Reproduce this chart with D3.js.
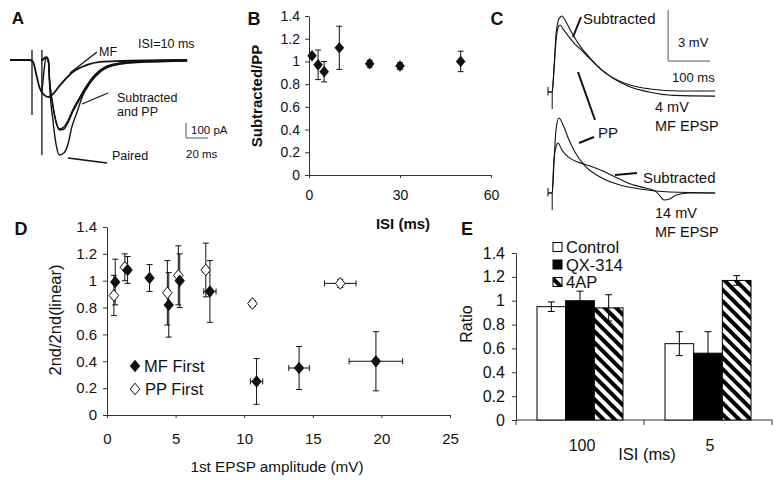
<!DOCTYPE html>
<html><head><meta charset="utf-8">
<script src="https://cdn.jsdelivr.net/npm/d3@7"></script>
<style>
body{margin:0;background:#fff}
svg{display:block;background:#fff}
text{font-family:"Liberation Sans",Arial,Helvetica,sans-serif;fill:#111}
</style>
</head><body>
<svg id="c" width="780" height="480"></svg>
<script>
// ================= DATA =================
// Panel A traces: [time (ms), current (pA)]
const aMF = [[0,0],[18,0],[21,-13],[24,-100],[27,-187],[31,-233],[35,-247],[39,-227],[45,-173],[56,-87],[70,-33],[82,-13],[97,-7],[161,0]];
const aPaired = [[29,-215],[31,-67],[33,20],[35,0],[36,-167],[39,-400],[42,-567],[45,-633],[49,-620],[53,-553],[56,-453],[61,-347],[66,-240],[73,-153],[82,-80],[95,-33],[118,-13],[161,-7]];
const aPP = [[29,0],[31,13],[33,20],[35,-13],[36,-133],[39,-300],[42,-413],[45,-467],[49,-460],[53,-413],[57,-347],[64,-253],[70,-173],[77,-107],[86,-53],[100,-27],[123,-13],[161,-7]];
const aSub = [[29,-7],[31,7],[33,13],[35,-20],[36,-140],[39,-310],[42,-420],[45,-460],[49,-447],[53,-400],[57,-333],[64,-240],[70,-167],[77,-100],[86,-47],[100,-20],[123,-7],[161,0]];
const aStim = [[20,67,-367],[29,67,-633]];           // [time, top, bottom]
const aScaleBar = {t0:160, t1:180, v0:-420, v1:-520}; // 20 ms, 100 pA

// Panel B
const bISI   = [1, 3, 5, 10, 20, 30, 50];
const bRatio = [1.05, 0.97, 0.91, 1.12, 0.98, 0.96, 1.00];
const bErr   = [0, 0.13, 0.09, 0.19, 0.03, 0.03, 0.09];
const bXTicks = [0, 30, 60];
const bYTicks = [0, 0.2, 0.4, 0.6, 0.8, 1, 1.2, 1.4];
const bYTickLabels = ["0","0.2","0.4","0.6","0.8","1","1.2","1.4"];

// Panel C traces: [time (ms), voltage (mV)]
const cTopSub = [[0,0],[10,0],[14,1.29],[19,3.35],[26,4.29],[33,4.47],[43,4.12],[57,3.47],[76,2.71],[100,2.0],[129,1.29],[160,0.76],[195,0.41],[243,0.18],[314,0.06],[398,0.06]];
const cTopPP  = [[0,0],[10,0],[14,1.2],[19,3.0],[25,3.85],[29,3.94],[36,3.7],[48,3.3],[62,2.88],[80,2.45],[100,1.95],[125,1.35],[155,0.8],[190,0.35],[240,0.0],[300,-0.2],[398,-0.24]];
const cBotPP  = [[0,0],[10,0],[14,1.65],[19,3.7],[26,4.41],[36,4.0],[48,3.24],[64,2.41],[88,1.59],[124,0.94],[171,0.47],[219,0.24],[290,0.06],[398,0]];
const cBotSub = [[0,0],[10,0],[14,1.94],[19,2.7],[24,2.94],[33,2.53],[48,2.12],[71,1.82],[100,1.59],[131,1.29],[160,0.94],[190,0.59],[231,0.29],[255,0.12],[267,-0.18],[276,-0.41],[290,-0.35],[305,-0.12],[338,0],[398,0]];
const cStim = [[10,0,-1.0],[0,0.3,-0.2]];
const cScaleBar = {t0:286, t1:386, v0:1.82, v1:4.82}; // 100 ms, 3 mV

// Panel D
const dMFx    = [0.6, 1.5, 3.1, 4.5, 5.3, 7.5, 10.9, 14.0, 19.6];
const dMFy    = [0.99, 1.08, 1.02, 0.82, 1.00, 0.92, 0.25, 0.35, 0.40];
const dMFyErr = [0.17, 0.10, 0.10, 0.24, 0.20, 0.23, 0.17, 0.16, 0.22];
const dMFxErr = [0.1, 0.2, 0.1, 0.1, 0.1, 0.45, 0.45, 0.75, 1.95];
const dPPx    = [0.5, 1.3, 4.4, 5.2, 7.2, 10.6, 17.0];
const dPPy    = [0.89, 1.10, 0.91, 1.04, 1.08, 0.83, 0.98];
const dPPyErr = [0.15, 0.10, 0.24, 0.22, 0.20, 0.02, 0.03];
const dPPxErr = [0.05, 0.1, 0.05, 0.05, 0.2, 0.2, 1.15];
const dXTicks = [0, 5, 10, 15, 20, 25];
const dYTicks = [0, 0.2, 0.4, 0.6, 0.8, 1, 1.2, 1.4];
const dYTickLabels = ["0","0.2","0.4","0.6","0.8","1","1.2","1.4"];

// Panel E
const eGroups = ["100", "5"];
const eSeries = ["Control", "QX-314", "4AP"];
const eControl = [0.95, 0.64], eControlErr = [0.04, 0.10];
const eQX      = [1.00, 0.56], eQXErr      = [0.08, 0.18];
const e4AP     = [0.94, 1.17], e4APErr     = [0.11, 0.04];
const eYTicks = [0, 0.2, 0.4, 0.6, 0.8, 1, 1.2, 1.4];
const eYTickLabels = ["0","0.2","0.4","0.6","0.8","1","1.2","1.4"];

// ================= DRAW =================
const svg = d3.select("#c");
const INK = "#111", AX = "#333";

// pattern for 4AP
const defs = svg.append("defs");
const pat = defs.append("pattern").attr("id","hatch").attr("patternUnits","userSpaceOnUse")
  .attr("width",8).attr("height",8).attr("patternTransform","rotate(-45)");
pat.append("rect").attr("width",8).attr("height",8).attr("fill","#fff");
pat.append("rect").attr("width",4).attr("height",8).attr("fill","#000");

function diamondPath(hw, hh){ return `M0,${-hh}L${hw},0L0,${hh}L${-hw},0Z`; }
function styleAxis(g, fs){
  g.attr("font-family",null).attr("font-size",null);
  g.selectAll("path.domain").attr("stroke",AX).attr("stroke-width",1);
  g.selectAll(".tick line").attr("stroke",AX).attr("stroke-width",1);
  g.selectAll(".tick text").attr("fill",INK).style("font-size",fs+"px");
}
function panelLabel(t,x,y,fs){
  svg.append("text").attr("x",x).attr("y",y).attr("text-anchor","middle")
    .style("font-size",fs+"px").style("font-weight","bold").text(t);
}
function txt(s,x,y,fs,opts={}){
  const t = svg.append("text").attr("x",x).attr("y",y).style("font-size",fs+"px").text(s);
  if(opts.anchor) t.attr("text-anchor",opts.anchor);
  if(opts.bold) t.style("font-weight","bold");
  if(opts.rotate) t.attr("transform",`rotate(-90,${x},${y})`);
  return t;
}
function seg(x1,y1,x2,y2,w=1.3){
  svg.append("line").attr("x1",x1).attr("y1",y1).attr("x2",x2).attr("y2",y2)
    .attr("stroke",INK).attr("stroke-width",w);
}

// ---------- Panel A ----------
{
  const x = d3.scaleLinear().domain([0,160]).range([10,186]);
  const y = d3.scaleLinear().domain([0,-100]).range([60,75]);
  const line = d3.line().x(d=>x(d[0])).y(d=>y(d[1])).curve(d3.curveMonotoneX);
  const g = svg.append("g");
  [aMF, aPaired, aPP, aSub].forEach((tr,i)=>{
    g.append("path").attr("d",line(tr)).attr("fill","none").attr("stroke",INK)
      .attr("stroke-width", i===0 ? 1.8 : 1.4);
  });
  aStim.forEach(s=>{
    g.append("line").attr("x1",x(s[0])).attr("x2",x(s[0])).attr("y1",y(s[1])).attr("y2",y(s[2]))
      .attr("stroke",INK).attr("stroke-width",1.3);
  });
  // scale bar
  g.append("path").attr("d",`M${x(aScaleBar.t0)},${y(aScaleBar.v0)}V${y(aScaleBar.v1)}H${x(aScaleBar.t1)}`)
    .attr("fill","none").attr("stroke","#555").attr("stroke-width",1);
  txt("100 pA",191,134,11.5);
  txt("20 ms",186,158,11.5);
  txt("ISI=10 ms",138,48,12.5);
  txt("MF",99,56,12.5);
  txt("Subtracted",117,102,12.5);
  txt("and PP",117,116,12.5);
  txt("Paired",112,160,12.5);
  seg(70,73,97,52);
  seg(82,104,108,93);
  seg(68,158,107,163);
  panelLabel("A",18,24,17);
}

// ---------- Panel B ----------
{
  const x = d3.scaleLinear().domain([0,60]).range([309,491]);
  const y = d3.scaleLinear().domain([0,1.4]).range([175,16]);
  const gy = svg.append("g").attr("transform","translate(309,0)")
    .call(d3.axisLeft(y).tickValues(bYTicks).tickFormat((d,i)=>bYTickLabels[i]).tickSize(4).tickSizeOuter(0).tickPadding(5));
  styleAxis(gy,14);
  const gx = svg.append("g").attr("transform","translate(0,175)")
    .call(d3.axisBottom(x).tickValues(bXTicks).tickFormat(d=>d).tickSize(3).tickSizeOuter(0).tickPadding(12));
  styleAxis(gx,14);
  gx.selectAll(".tick line").attr("y2",3);
  txt("ISI (ms)",403,229,15,{anchor:"middle",bold:true});
  txt("Subtracted/PP",262,96,15,{anchor:"middle",bold:true,rotate:true});
  const g = svg.append("g");
  bISI.forEach((v,i)=>{
    if(bErr[i]>0){
      const cx=x(v), y1=y(bRatio[i]-bErr[i]), y2=y(bRatio[i]+bErr[i]);
      g.append("path").attr("d",`M${cx},${y1}V${y2}M${cx-3},${y1}H${cx+3}M${cx-3},${y2}H${cx+3}`)
        .attr("stroke",INK).attr("stroke-width",1).attr("fill","none");
    }
    g.append("path").attr("d",diamondPath(4.8,5.8)).attr("transform",`translate(${x(v)},${y(bRatio[i])})`).attr("fill",INK);
  });
  panelLabel("B",254,25,18);
}

// ---------- Panel C ----------
{
  const x = d3.scaleLinear().domain([0,100]).range([548,590]);
  const yT = d3.scaleLinear().domain([0,3]).range([92,41]);
  const yB = d3.scaleLinear().domain([0,3]).range([193,142]);
  const lt = d3.line().x(d=>x(d[0])).y(d=>yT(d[1])).curve(d3.curveMonotoneX);
  const lb = d3.line().x(d=>x(d[0])).y(d=>yB(d[1])).curve(d3.curveMonotoneX);
  const g = svg.append("g");
  [cTopSub,cTopPP].forEach(tr=>g.append("path").attr("d",lt(tr)).attr("fill","none").attr("stroke",INK).attr("stroke-width",1.1));
  [cBotPP,cBotSub].forEach(tr=>g.append("path").attr("d",lb(tr)).attr("fill","none").attr("stroke",INK).attr("stroke-width",1.1));
  cStim.forEach(s=>{
    [yT,yB].forEach(yy=>g.append("line").attr("x1",x(s[0])).attr("x2",x(s[0])).attr("y1",yy(s[1])).attr("y2",yy(s[2]))
      .attr("stroke",INK).attr("stroke-width",1));
  });
  g.append("path").attr("d",`M${x(cScaleBar.t0)},${yT(cScaleBar.v1)}V${yT(cScaleBar.v0)}H${x(cScaleBar.t1)}`)
    .attr("fill","none").attr("stroke","#555").attr("stroke-width",1);
  txt("3 mV",678,47,13);
  txt("100 ms",672,82,13);
  txt("Subtracted",583,24,15);
  txt("4 mV",655,112,14.5);
  txt("MF EPSP",655,131,14.5);
  txt("PP",598,138,15);
  txt("Subtracted",643,183,15);
  txt("14 mV",655,218,14.5);
  txt("MF EPSP",655,237,14.5);
  seg(573,37,581,17,2);
  seg(578,72,595,120,2);
  seg(579,143,594,137,2);
  seg(615,175,637,173,2);
  panelLabel("C",497,25,18);
}

// ---------- Panel D ----------
{
  const x = d3.scaleLinear().domain([0,25]).range([107,450]);
  const y = d3.scaleLinear().domain([0,1.4]).range([415,227]);
  const gy = svg.append("g").attr("transform","translate(107,0)")
    .call(d3.axisLeft(y).tickValues(dYTicks).tickFormat((d,i)=>dYTickLabels[i]).tickSize(4).tickSizeOuter(0).tickPadding(6));
  styleAxis(gy,15);
  const gx = svg.append("g").attr("transform","translate(0,415)")
    .call(d3.axisBottom(x).tickValues(dXTicks).tickFormat(d=>d).tickSize(3).tickSizeOuter(0).tickPadding(15));
  styleAxis(gx,15);
  txt("1st EPSP amplitude (mV)",277,472,15.3,{anchor:"middle"});
  txt("2nd/2nd(linear)",61,320,16.5,{anchor:"middle",rotate:true});
  const g = svg.append("g");
  function errs(xs,ys,xe,ye){
    xs.forEach((v,i)=>{
      const cx=x(v), cy=y(ys[i]);
      const y1=y(ys[i]-ye[i]), y2=y(ys[i]+ye[i]);
      const x1=x(v-xe[i]), x2=x(v+xe[i]);
      g.append("path").attr("d",`M${cx},${y1}V${y2}M${cx-3},${y1}H${cx+3}M${cx-3},${y2}H${cx+3}M${x1},${cy}H${x2}M${x1},${cy-3}V${cy+3}M${x2},${cy-3}V${cy+3}`)
        .attr("stroke",INK).attr("stroke-width",1).attr("fill","none");
    });
  }
  errs(dPPx,dPPy,dPPxErr,dPPyErr);
  errs(dMFx,dMFy,dMFxErr,dMFyErr);
  dPPx.forEach((v,i)=>g.append("path").attr("d",diamondPath(4.8,5.8)).attr("transform",`translate(${x(v)},${y(dPPy[i])})`)
    .attr("fill","#fff").attr("stroke",INK).attr("stroke-width",1));
  dMFx.forEach((v,i)=>g.append("path").attr("d",diamondPath(5.2,6.2)).attr("transform",`translate(${x(v)},${y(dMFy[i])})`).attr("fill",INK));
  // legend
  g.append("path").attr("d",diamondPath(5.2,6.2)).attr("transform","translate(135,366)").attr("fill",INK);
  g.append("path").attr("d",diamondPath(4.8,5.8)).attr("transform","translate(135,389)").attr("fill","#fff").attr("stroke",INK);
  txt("MF First",144,372,16.5);
  txt("PP First",145,395,16.5);
  panelLabel("D",21,235,18);
}

// ---------- Panel E ----------
{
  const x0 = d3.scaleBand().domain(eGroups).range([516,772]).paddingInner(0).paddingOuter(0);
  const x1 = d3.scaleBand().domain(eSeries).range([21, x0.bandwidth()-21]).padding(0);
  const y = d3.scaleLinear().domain([0,1.4]).range([420,253]);
  const gy = svg.append("g").attr("transform","translate(516,0)")
    .call(d3.axisLeft(y).tickValues(eYTicks).tickFormat((d,i)=>eYTickLabels[i]).tickSize(4).tickSizeOuter(0).tickPadding(7));
  styleAxis(gy,16);
  // x axis with ticks at band boundaries
  const bounds = [516, x0("5"), 772];
  svg.append("line").attr("x1",516).attr("x2",772).attr("y1",420).attr("y2",420).attr("stroke",AX);
  bounds.forEach(b=>svg.append("line").attr("x1",b).attr("x2",b).attr("y1",420).attr("y2",425).attr("stroke",AX));
  eGroups.forEach(gn=>txt(gn,x0(gn)+x0.bandwidth()/2+2,451,16,{anchor:"middle"}));
  txt("ISI (ms)",647,460,16.5,{anchor:"middle"});
  txt("Ratio",472,324,16,{anchor:"middle",rotate:true});
  const vals = {"Control":[eControl,eControlErr],"QX-314":[eQX,eQXErr],"4AP":[e4AP,e4APErr]};
  const fills = {"Control":"#fff","QX-314":"#000","4AP":"url(#hatch)"};
  const g = svg.append("g");
  eGroups.forEach((gn,gi)=>{
    eSeries.forEach(s=>{
      const v = vals[s][0][gi];
      const bx = x0(gn)+x1(s);
      g.append("rect").attr("x",bx).attr("y",y(v)).attr("width",x1.bandwidth()).attr("height",y(0)-y(v))
        .attr("fill",fills[s]).attr("stroke","#000").attr("stroke-width",1);
    });
  });
  eGroups.forEach((gn,gi)=>{
    eSeries.forEach(s=>{
      const v = vals[s][0][gi], e = vals[s][1][gi];
      const cx = x0(gn)+x1(s)+x1.bandwidth()/2;
      const ya=y(v-e), yb=y(v+e);
      const col = s==="QX-314" ? "#000" : "#000";
      g.append("path").attr("d",`M${cx},${ya}V${yb}M${cx-3.5},${ya}H${cx+3.5}M${cx-3.5},${yb}H${cx+3.5}`)
        .attr("stroke",col).attr("stroke-width",1).attr("fill","none");
    });
  });
  // legend
  eSeries.forEach((s,i)=>{
    const ly = 247 + i*17.5;
    g.append("rect").attr("x",553).attr("y",ly-4.5).attr("width",9).attr("height",9)
      .attr("fill",fills[s]).attr("stroke","#000").attr("stroke-width",1);
    txt(s,566,ly+6,16.5);
  });
  panelLabel("E",467,235,18);
}
</script>
</body></html>
